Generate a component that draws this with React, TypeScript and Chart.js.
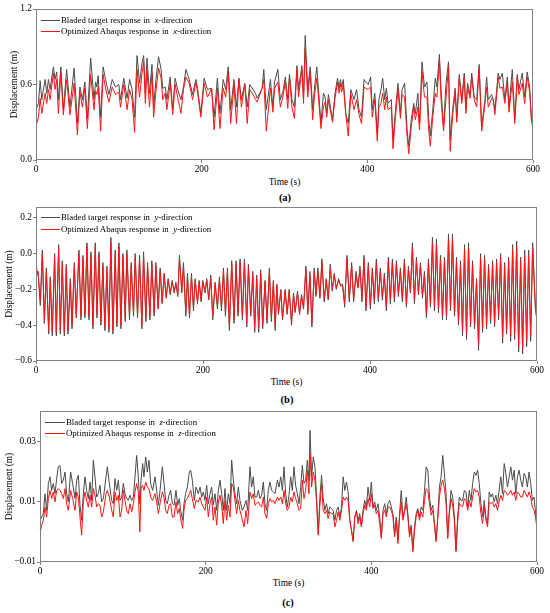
import React, { useEffect, useRef } from "react";
import { Chart, registerables } from "chart.js";

Chart.register(...registerables);

// ---- (a) x-direction ----
const timeX = [
  0, 3, 5, 7, 11, 13, 15, 17, 21, 23,
  25, 27, 30, 33, 37, 41, 46, 50, 53, 56,
  59, 62, 66, 70, 72, 73.5, 75, 78, 81, 84,
  88, 92, 96, 100, 102, 106, 110, 113, 116, 119,
  122, 125, 128, 130, 132, 134, 137, 140, 142, 145,
  148, 151, 153, 156, 158, 162, 165, 168, 171, 175,
  178, 181, 185, 189, 193, 195, 199, 203, 207, 212,
  215, 219, 222, 226, 229, 232, 235, 239, 242, 245,
  248, 252, 255, 258, 262, 265, 267, 273, 275, 278,
  283, 286, 288, 292, 295, 298, 301, 304, 306, 309,
  312, 315, 317, 321, 323, 325, 328, 331, 334, 336,
  339, 341, 344, 347, 349, 351, 353, 356, 358, 361,
  364, 366, 367.5, 369, 371, 374, 377, 380, 384, 387,
  390, 393, 396, 398, 401, 404, 406, 409, 412, 414,
  416.5, 418.5, 421, 423, 425, 429, 431, 434, 437, 440,
  442, 445, 448, 450, 453, 456, 458, 461, 463, 466,
  469, 472, 474, 476, 479, 482, 484, 487, 489, 492,
  495, 498, 500, 503, 506, 508, 511, 514, 517, 519,
  521, 524, 526, 529, 532, 535, 538, 542, 544, 546,
  550, 552, 554, 558, 560, 563, 566, 569, 571, 575,
  578, 581, 583, 587, 590, 593, 596, 598, 600,
];
const bladedX = [
  0.40, 0.45, 0.63, 0.48, 0.64, 0.53, 0.64, 0.56, 0.74, 0.64,
  0.70, 0.48, 0.74, 0.40, 0.72, 0.42, 0.73, 0.29, 0.58, 0.48,
  0.62, 0.33, 0.81, 0.48, 0.62, 0.58, 0.67, 0.34, 0.74, 0.64,
  0.52, 0.64, 0.58, 0.60, 0.48, 0.65, 0.49, 0.64, 0.56, 0.34,
  0.83, 0.61, 0.77, 0.83, 0.53, 0.81, 0.53, 0.76, 0.42, 0.65,
  0.82, 0.72, 0.57, 0.58, 0.48, 0.66, 0.40, 0.65, 0.56, 0.48,
  0.58, 0.72, 0.64, 0.52, 0.64, 0.57, 0.37, 0.65, 0.56, 0.57,
  0.34, 0.65, 0.37, 0.64, 0.56, 0.74, 0.40, 0.64, 0.42, 0.65,
  0.48, 0.61, 0.42, 0.60, 0.56, 0.53, 0.49, 0.57, 0.72, 0.40,
  0.64, 0.42, 0.62, 0.72, 0.48, 0.54, 0.66, 0.48, 0.68, 0.48,
  0.42, 0.75, 0.56, 0.75, 0.50, 0.99, 0.56, 0.74, 0.40, 0.56,
  0.74, 0.56, 0.29, 0.53, 0.50, 0.37, 0.52, 0.40, 0.32, 0.53,
  0.65, 0.57, 0.64, 0.58, 0.64, 0.37, 0.29, 0.56, 0.48, 0.56,
  0.40, 0.34, 0.64, 0.62, 0.60, 0.66, 0.40, 0.53, 0.21, 0.48,
  0.56, 0.65, 0.48, 0.57, 0.45, 0.48, 0.16, 0.40, 0.61, 0.37,
  0.56, 0.61, 0.24, 0.11, 0.32, 0.45, 0.37, 0.53, 0.29, 0.78,
  0.58, 0.62, 0.34, 0.19, 0.40, 0.65, 0.58, 0.84, 0.56, 0.26,
  0.61, 0.78, 0.16, 0.40, 0.57, 0.34, 0.68, 0.48, 0.69, 0.40,
  0.61, 0.52, 0.69, 0.50, 0.48, 0.76, 0.26, 0.48, 0.66, 0.48,
  0.52, 0.48, 0.40, 0.69, 0.64, 0.69, 0.48, 0.66, 0.42, 0.72,
  0.32, 0.68, 0.56, 0.69, 0.50, 0.70, 0.58, 0.34, 0.26,
];
const abaqusX = [
  0.27, 0.34, 0.49, 0.37, 0.53, 0.45, 0.56, 0.48, 0.69, 0.56,
  0.64, 0.37, 0.69, 0.36, 0.64, 0.36, 0.61, 0.20, 0.54, 0.42,
  0.57, 0.25, 0.68, 0.40, 0.55, 0.52, 0.58, 0.23, 0.68, 0.57,
  0.46, 0.58, 0.52, 0.54, 0.42, 0.60, 0.40, 0.56, 0.48, 0.22,
  0.72, 0.50, 0.69, 0.78, 0.45, 0.72, 0.42, 0.69, 0.34, 0.56,
  0.73, 0.65, 0.48, 0.53, 0.40, 0.61, 0.36, 0.60, 0.50, 0.37,
  0.56, 0.66, 0.61, 0.48, 0.62, 0.54, 0.34, 0.61, 0.50, 0.57,
  0.24, 0.57, 0.25, 0.57, 0.50, 0.70, 0.29, 0.60, 0.29, 0.64,
  0.42, 0.60, 0.29, 0.56, 0.52, 0.48, 0.46, 0.57, 0.64, 0.23,
  0.57, 0.38, 0.57, 0.62, 0.42, 0.50, 0.62, 0.41, 0.66, 0.42,
  0.33, 0.72, 0.50, 0.72, 0.45, 0.89, 0.50, 0.70, 0.32, 0.50,
  0.65, 0.50, 0.25, 0.42, 0.46, 0.34, 0.48, 0.37, 0.30, 0.49,
  0.62, 0.53, 0.61, 0.54, 0.60, 0.36, 0.19, 0.53, 0.40, 0.48,
  0.36, 0.29, 0.58, 0.57, 0.56, 0.58, 0.34, 0.48, 0.15, 0.42,
  0.45, 0.53, 0.40, 0.50, 0.40, 0.42, 0.09, 0.34, 0.56, 0.33,
  0.52, 0.50, 0.19, 0.05, 0.26, 0.42, 0.32, 0.42, 0.24, 0.70,
  0.50, 0.50, 0.24, 0.11, 0.34, 0.53, 0.50, 0.79, 0.48, 0.23,
  0.50, 0.74, 0.07, 0.36, 0.53, 0.30, 0.65, 0.45, 0.65, 0.37,
  0.58, 0.49, 0.66, 0.48, 0.42, 0.73, 0.23, 0.45, 0.58, 0.42,
  0.49, 0.48, 0.36, 0.66, 0.57, 0.58, 0.45, 0.62, 0.38, 0.62,
  0.29, 0.66, 0.52, 0.61, 0.45, 0.66, 0.54, 0.32, 0.25,
];

// ---- (b) y-direction ----
const timeY = [
  0, 1.2, 2.4, 5.2, 7.6, 10, 12.4, 15.2, 17.1, 19.5,
  22.3, 24.3, 27.1, 29.1, 31.5, 33.9, 36.3, 38.3, 41.1, 43.1,
  45.9, 48.2, 51.4, 53.8, 56.2, 58.6, 61, 63.4, 65.8, 68.2,
  71, 73, 75.4, 77.7, 80.1, 82.5, 84.9, 87.3, 89.7, 92.1,
  94.9, 96.9, 99.3, 101.7, 104.1, 106.9, 108.8, 112, 114, 116.8,
  118.8, 121.6, 124, 126.8, 128.8, 131.6, 133.6, 136.4, 138.7, 141.5,
  143.5, 146.3, 148.7, 151.1, 153.5, 155.9, 158.3, 160.7, 163.1, 165.5,
  167.5, 169.8, 171.8, 174.6, 176.6, 179.4, 181.4, 183.8, 186.2, 188.6,
  190.6, 193.4, 195.4, 197.8, 199.7, 202.5, 204.5, 206.9, 209.3, 211.7,
  214.5, 217.3, 219.7, 222.1, 224.5, 226.9, 229.3, 231.6, 234.4, 237.2,
  239.6, 242, 244.4, 247.2, 249.6, 252.4, 254.4, 257.2, 259.6, 261.9,
  264.3, 266.7, 269.1, 271.5, 274.3, 276.7, 279.5, 281.9, 284.3, 286.5,
  288.4, 290.4, 293.2, 295.2, 298.4, 300.8, 303.2, 306, 308.4, 310.4,
  313.2, 315.6, 318, 320.4, 323.2, 325.6, 328, 330.4, 333.2, 335.2,
  337.6, 340, 342.4, 345.2, 347.6, 350, 352.4, 354.8, 357.2, 359.6,
  362.4, 364.8, 367.2, 369.6, 372.4, 375.2, 378, 380.4, 383.2, 385.6,
  388, 390.4, 392.8, 395.2, 398, 400.4, 402.8, 405.2, 407.6, 410,
  412.4, 414.8, 417.2, 419.6, 422, 424.4, 426.8, 429.2, 431.6, 434,
  436.4, 438.8, 441.2, 443.6, 446, 448.4, 450.8, 453.2, 455.6, 458,
  460.4, 462.8, 465.2, 467.6, 470, 472.4, 474.8, 477.2, 479.6, 482,
  484.4, 486.8, 489.2, 491.6, 494, 496.4, 498.8, 501.2, 503.6, 506,
  508.4, 510.8, 513.2, 515.6, 518, 520.4, 522.8, 525.2, 527.6, 530,
  532.4, 534.8, 537.2, 539.6, 542, 544.4, 546.8, 549.2, 551.6, 554,
  556.4, 558.8, 561.2, 563.6, 566, 568.4, 570.8, 573.2, 575.6, 578,
  580.4, 582.8, 585.2, 587.6, 590, 592.4, 594.8, 598, 600,
];
const bladedY = [
  -0.02, -0.12, -0.10, -0.29, 0.02, -0.39, -0.08, -0.45, -0.13, -0.46,
  0.00, -0.46, 0.05, -0.45, -0.04, -0.46, -0.06, -0.45, -0.14, -0.42,
  -0.05, -0.36, 0.02, -0.37, -0.01, -0.36, 0.06, -0.37, 0.01, -0.42,
  0.06, -0.36, 0.01, -0.40, -0.05, -0.43, -0.07, -0.44, 0.09, -0.45,
  0.02, -0.41, 0.06, -0.42, 0.00, -0.38, 0.02, -0.37, -0.05, -0.35,
  0.00, -0.36, -0.01, -0.42, 0.01, -0.38, -0.05, -0.37, -0.04, -0.35,
  -0.05, -0.31, -0.08, -0.28, -0.11, -0.25, -0.14, -0.23, -0.15, -0.22,
  -0.16, -0.24, -0.01, -0.22, -0.05, -0.35, -0.11, -0.36, -0.11, -0.32,
  -0.14, -0.28, -0.15, -0.27, -0.15, -0.22, -0.14, -0.26, -0.12, -0.37,
  -0.16, -0.31, -0.13, -0.32, -0.08, -0.35, -0.08, -0.43, -0.04, -0.39,
  -0.04, -0.35, -0.03, -0.37, -0.03, -0.41, -0.06, -0.35, -0.10, -0.44,
  -0.12, -0.44, -0.09, -0.42, -0.15, -0.39, -0.08, -0.38, -0.15, -0.43,
  -0.17, -0.34, -0.20, -0.37, -0.20, -0.34, -0.20, -0.40, -0.22, -0.33,
  -0.21, -0.34, -0.23, -0.31, -0.07, -0.34, -0.10, -0.41, -0.08, -0.24,
  -0.08, -0.25, -0.03, -0.27, -0.14, -0.26, -0.06, -0.21, -0.11, -0.20,
  -0.14, -0.18, -0.17, -0.30, -0.01, -0.27, -0.05, -0.27, -0.10, -0.19,
  -0.07, -0.27, -0.01, -0.32, -0.05, -0.31, -0.08, -0.28, -0.03, -0.27,
  -0.08, -0.26, -0.11, -0.32, -0.02, -0.28, -0.03, -0.27, -0.04, -0.24,
  -0.08, -0.27, -0.03, -0.30, -0.07, -0.22, 0.06, -0.28, -0.02, -0.23,
  -0.05, -0.25, -0.10, -0.36, -0.03, -0.30, 0.09, -0.32, 0.08, -0.33,
  -0.01, -0.37, -0.02, -0.37, 0.11, -0.32, 0.11, -0.35, -0.02, -0.40,
  -0.04, -0.46, 0.05, -0.48, 0.06, -0.41, -0.04, -0.42, -0.14, -0.54,
  0.00, -0.44, -0.01, -0.42, -0.06, -0.39, -0.04, -0.41, -0.03, -0.37,
  0.00, -0.50, -0.05, -0.45, -0.02, -0.49, 0.05, -0.48, 0.07, -0.55,
  -0.02, -0.56, 0.02, -0.52, 0.02, -0.49, 0.06, -0.30, -0.38,
];
const abaqusY = [
  -0.03, -0.11, -0.10, -0.27, 0.00, -0.37, -0.10, -0.43, -0.15, -0.44,
  -0.02, -0.44, 0.03, -0.43, -0.06, -0.44, -0.08, -0.43, -0.16, -0.40,
  -0.07, -0.34, 0.00, -0.35, -0.03, -0.34, 0.04, -0.35, -0.01, -0.40,
  0.04, -0.34, -0.01, -0.38, -0.07, -0.41, -0.09, -0.42, 0.06, -0.43,
  0.00, -0.39, 0.04, -0.40, -0.02, -0.36, 0.00, -0.35, -0.07, -0.33,
  -0.02, -0.34, -0.03, -0.40, -0.01, -0.36, -0.07, -0.35, -0.06, -0.33,
  -0.07, -0.30, -0.10, -0.27, -0.12, -0.24, -0.15, -0.22, -0.16, -0.21,
  -0.17, -0.23, -0.03, -0.21, -0.07, -0.33, -0.13, -0.34, -0.13, -0.30,
  -0.15, -0.27, -0.16, -0.26, -0.16, -0.21, -0.15, -0.25, -0.14, -0.35,
  -0.17, -0.29, -0.15, -0.30, -0.10, -0.33, -0.10, -0.41, -0.06, -0.37,
  -0.06, -0.33, -0.05, -0.35, -0.05, -0.39, -0.08, -0.33, -0.12, -0.42,
  -0.14, -0.42, -0.11, -0.40, -0.16, -0.37, -0.10, -0.36, -0.16, -0.41,
  -0.18, -0.33, -0.21, -0.36, -0.21, -0.33, -0.21, -0.38, -0.23, -0.32,
  -0.22, -0.33, -0.24, -0.30, -0.09, -0.32, -0.12, -0.39, -0.10, -0.23,
  -0.10, -0.24, -0.05, -0.26, -0.15, -0.25, -0.08, -0.20, -0.12, -0.19,
  -0.15, -0.18, -0.18, -0.28, -0.03, -0.25, -0.07, -0.25, -0.12, -0.19,
  -0.09, -0.25, -0.03, -0.30, -0.07, -0.29, -0.10, -0.26, -0.05, -0.25,
  -0.10, -0.24, -0.13, -0.30, -0.04, -0.26, -0.05, -0.25, -0.06, -0.22,
  -0.10, -0.25, -0.05, -0.28, -0.09, -0.21, 0.03, -0.26, -0.04, -0.22,
  -0.07, -0.23, -0.12, -0.34, -0.05, -0.28, 0.06, -0.30, 0.05, -0.31,
  -0.03, -0.35, -0.04, -0.35, 0.08, -0.30, 0.08, -0.33, -0.04, -0.38,
  -0.06, -0.43, 0.02, -0.45, 0.03, -0.39, -0.06, -0.40, -0.15, -0.51,
  -0.02, -0.42, -0.03, -0.40, -0.08, -0.37, -0.06, -0.39, -0.05, -0.35,
  -0.02, -0.47, -0.07, -0.43, -0.04, -0.46, 0.02, -0.45, 0.04, -0.52,
  -0.04, -0.53, -0.01, -0.49, -0.01, -0.46, 0.03, -0.29, -0.37,
];

// ---- (c) z-direction ----
const timeZ = [
  0, 2, 4, 6, 8, 10.1, 12.1, 14.1, 16.1, 18.1,
  20.1, 22.1, 24.1, 26.2, 28.2, 30.2, 32.2, 34.2, 37, 39.4,
  42.3, 44.3, 46.3, 48.3, 50.3, 52.3, 54.3, 56.3, 58.3, 60.4,
  62.4, 64.4, 66.4, 68.4, 70.4, 72.4, 74.4, 76.5, 79.7, 81.3,
  83.7, 86.5, 88.5, 90.5, 92.6, 94.6, 96.6, 98.6, 100.6, 102.6,
  104.6, 106.6, 108.6, 110.7, 112.7, 114.7, 116.7, 118.7, 120.5, 122,
  123.9, 125.5, 127.6, 129.6, 131.6, 133.6, 136, 138.8, 140.8, 142.9,
  144.9, 147.7, 149.7, 151.7, 153.7, 155.7, 157.7, 159.8, 161.8, 164.2,
  166.2, 168.2, 169.8, 172.2, 173.8, 175.8, 177.9, 180.3, 181.9, 183.9,
  186.3, 188.3, 191.1, 193.2, 195.2, 197.2, 199.2, 201.2, 203.2, 205.2,
  207.2, 209.2, 211.3, 213.3, 215.3, 217.3, 219.3, 221.3, 223.3, 225.3,
  227.4, 229.4, 231.4, 233.4, 235.4, 237.4, 239.4, 241.4, 244.3, 246.3,
  248.7, 250.7, 253.5, 255.5, 257.5, 259.5, 261.6, 263.6, 265.6, 267.6,
  269.6, 271.6, 273.6, 275.6, 277.6, 279.7, 281.7, 283.7, 286.6, 288.6,
  290.6, 292.6, 294.6, 296.6, 298.6, 300.6, 302.6, 304.6, 306.6, 308.6,
  310.7, 312.7, 314.7, 316.7, 318.7, 320.7, 322.7, 324.7, 326, 327.9,
  329.9, 331.9, 333.5, 335.9, 337.9, 339.9, 341.9, 343.9, 345.9, 347.9,
  349.9, 351.9, 353.9, 356, 358, 360, 362, 364, 366, 368,
  370, 372, 374, 376, 378, 380, 382, 384, 386, 388,
  390, 392, 394, 396, 398, 400, 402, 404, 406, 408,
  410.1, 412.1, 414.1, 416.1, 418.1, 420.1, 422.1, 424.1, 426.1, 428.1,
  430.1, 432.1, 434.1, 436.1, 438.1, 440.1, 442.1, 444.1, 446.1, 448.1,
  450.1, 452.1, 454.1, 456.1, 458.1, 460.1, 462.2, 464.2, 466.2, 468.2,
  470.2, 472.2, 474.2, 476.2, 478.2, 480.2, 482.2, 484.2, 486.2, 488.2,
  490.2, 492.2, 494.2, 496.2, 498.2, 500.2, 502.2, 504.2, 506.2, 508.2,
  510.2, 512.3, 514.3, 516.3, 518.3, 520.3, 522.3, 524.3, 526.3, 528.3,
  530.3, 532.3, 534.3, 536.3, 538.3, 540.3, 542.3, 544.3, 546.3, 548.3,
  550.3, 552.3, 554.3, 556.3, 558.4, 560.4, 562.4, 564.4, 566.4, 568.4,
  570.4, 572.4, 574.4, 576.4, 578.4, 580.4, 582.4, 584.4, 586.4, 588.4,
  590.4, 592.4, 594.4, 596.4, 598.4, 600,
];
const bladedZ = [
  0.0038, 0.0049, 0.0060, 0.0126, 0.0071, 0.0160, 0.0182, 0.0137, 0.0160, 0.0126,
  0.0176, 0.0215, 0.0220, 0.0160, 0.0171, 0.0198, 0.0126, 0.0099, 0.0198, 0.0160,
  0.0110, 0.0171, 0.0187, 0.0088, 0.0038, 0.0126, 0.0182, 0.0137, 0.0110, 0.0165,
  0.0104, 0.0237, 0.0182, 0.0115, 0.0126, 0.0154, 0.0099, 0.0110, 0.0182, 0.0215,
  0.0160, 0.0104, 0.0093, 0.0176, 0.0137, 0.0171, 0.0104, 0.0115, 0.0160, 0.0126,
  0.0110, 0.0104, 0.0121, 0.0104, 0.0115, 0.0182, 0.0253, 0.0182, 0.0093, 0.0171,
  0.0226, 0.0182, 0.0248, 0.0198, 0.0237, 0.0160, 0.0137, 0.0182, 0.0137, 0.0088,
  0.0137, 0.0215, 0.0160, 0.0104, 0.0093, 0.0121, 0.0137, 0.0093, 0.0088, 0.0137,
  0.0088, 0.0110, 0.0071, 0.0038, 0.0093, 0.0126, 0.0148, 0.0198, 0.0204, 0.0171,
  0.0104, 0.0148, 0.0126, 0.0148, 0.0115, 0.0132, 0.0104, 0.0154, 0.0093, 0.0126,
  0.0148, 0.0088, 0.0126, 0.0071, 0.0137, 0.0171, 0.0126, 0.0071, 0.0143, 0.0071,
  0.0126, 0.0093, 0.0237, 0.0171, 0.0126, 0.0093, 0.0148, 0.0104, 0.0071, 0.0082,
  0.0104, 0.0071, 0.0215, 0.0148, 0.0182, 0.0115, 0.0115, 0.0137, 0.0110, 0.0121,
  0.0165, 0.0093, 0.0071, 0.0137, 0.0165, 0.0137, 0.0132, 0.0126, 0.0171, 0.0148,
  0.0182, 0.0137, 0.0215, 0.0126, 0.0082, 0.0121, 0.0182, 0.0137, 0.0215, 0.0154,
  0.0126, 0.0093, 0.0148, 0.0220, 0.0160, 0.0171, 0.0237, 0.0171, 0.0336, 0.0182,
  0.0248, 0.0215, 0.0137, -0.0006, 0.0115, 0.0187, 0.0110, 0.0071, 0.0093, 0.0060,
  0.0082, 0.0077, 0.0071, 0.0038, 0.0071, 0.0082, 0.0049, 0.0082, 0.0182, 0.0137,
  0.0165, 0.0132, 0.0038, 0.0005, -0.0028, 0.0049, 0.0071, 0.0038, 0.0060, 0.0022,
  0.0071, 0.0104, 0.0082, 0.0148, 0.0104, 0.0165, 0.0082, 0.0099, 0.0071, 0.0093,
  0.0049, -0.0017, 0.0071, 0.0093, 0.0060, 0.0093, 0.0104, 0.0082, 0.0060, -0.0006,
  0.0049, -0.0028, 0.0060, 0.0137, 0.0049, 0.0071, 0.0115, 0.0060, -0.0006, 0.0022,
  -0.0061, 0.0016, 0.0060, 0.0077, 0.0049, 0.0082, 0.0071, 0.0137, 0.0215, 0.0204,
  0.0115, 0.0071, 0.0088, 0.0027, -0.0028, 0.0049, 0.0148, 0.0182, 0.0253, 0.0193,
  0.0126, -0.0017, 0.0071, 0.0137, 0.0115, 0.0055, -0.0061, 0.0049, 0.0115, 0.0104,
  0.0104, 0.0137, 0.0132, 0.0082, 0.0137, 0.0104, 0.0160, 0.0198, 0.0187, 0.0204,
  0.0160, 0.0093, 0.0049, 0.0104, 0.0049, 0.0027, 0.0132, 0.0115, 0.0126, 0.0099,
  0.0121, 0.0093, 0.0137, 0.0182, 0.0126, 0.0226, 0.0193, 0.0148, 0.0182, 0.0215,
  0.0171, 0.0204, 0.0126, 0.0182, 0.0204, 0.0171, 0.0148, 0.0193, 0.0182, 0.0148,
  0.0198, 0.0160, 0.0104, 0.0115, 0.0060, 0.0011,
];
const abaqusZ = [
  -0.0006, 0.0022, 0.0038, 0.0082, 0.0049, 0.0110, 0.0137, 0.0110, 0.0132, 0.0099,
  0.0137, 0.0143, 0.0137, 0.0126, 0.0110, 0.0143, 0.0093, 0.0071, 0.0137, 0.0110,
  0.0071, 0.0132, 0.0115, 0.0049, -0.0011, 0.0099, 0.0132, 0.0104, 0.0082, 0.0121,
  0.0082, 0.0143, 0.0121, 0.0082, 0.0093, 0.0088, 0.0049, 0.0066, 0.0126, 0.0137,
  0.0115, 0.0071, 0.0049, 0.0132, 0.0104, 0.0121, 0.0049, 0.0071, 0.0137, 0.0104,
  0.0071, 0.0060, 0.0093, 0.0066, 0.0093, 0.0132, 0.0160, 0.0132, 0.0000, 0.0143,
  0.0154, 0.0137, 0.0165, 0.0148, 0.0143, 0.0115, 0.0104, 0.0126, 0.0099, 0.0060,
  0.0093, 0.0132, 0.0115, 0.0071, 0.0060, 0.0088, 0.0093, 0.0049, 0.0049, 0.0099,
  0.0060, 0.0077, 0.0044, 0.0011, 0.0071, 0.0104, 0.0110, 0.0126, 0.0137, 0.0110,
  0.0077, 0.0104, 0.0099, 0.0115, 0.0093, 0.0082, 0.0071, 0.0115, 0.0049, 0.0093,
  0.0115, 0.0038, 0.0082, 0.0022, 0.0099, 0.0121, 0.0088, 0.0027, 0.0104, 0.0038,
  0.0088, 0.0049, 0.0160, 0.0148, 0.0104, 0.0060, 0.0104, 0.0071, 0.0038, 0.0016,
  0.0071, 0.0027, 0.0132, 0.0110, 0.0126, 0.0088, 0.0093, 0.0099, 0.0088, 0.0082,
  0.0115, 0.0060, 0.0044, 0.0093, 0.0110, 0.0099, 0.0104, 0.0093, 0.0115, 0.0104,
  0.0115, 0.0093, 0.0137, 0.0093, 0.0071, 0.0082, 0.0115, 0.0099, 0.0132, 0.0110,
  0.0093, 0.0071, 0.0077, 0.0171, 0.0110, 0.0137, 0.0204, 0.0126, 0.0259, 0.0148,
  0.0198, 0.0171, 0.0115, -0.0011, 0.0088, 0.0160, 0.0071, 0.0060, 0.0071, 0.0044,
  0.0066, 0.0060, 0.0060, 0.0016, 0.0038, 0.0066, 0.0038, 0.0071, 0.0115, 0.0104,
  0.0115, 0.0104, 0.0038, 0.0005, -0.0033, 0.0049, 0.0066, 0.0027, 0.0049, 0.0016,
  0.0060, 0.0088, 0.0071, 0.0110, 0.0082, 0.0126, 0.0077, 0.0088, 0.0060, 0.0071,
  0.0027, -0.0022, 0.0060, 0.0071, 0.0049, 0.0082, 0.0082, 0.0071, 0.0049, -0.0017,
  0.0038, -0.0039, 0.0049, 0.0099, 0.0038, 0.0066, 0.0093, 0.0049, -0.0017, 0.0011,
  -0.0066, 0.0005, 0.0049, 0.0071, 0.0038, 0.0066, 0.0049, 0.0104, 0.0143, 0.0137,
  0.0093, 0.0055, 0.0071, 0.0022, -0.0033, 0.0044, 0.0115, 0.0154, 0.0171, 0.0143,
  0.0093, -0.0022, 0.0060, 0.0110, 0.0088, 0.0038, -0.0066, 0.0033, 0.0093, 0.0088,
  0.0082, 0.0110, 0.0104, 0.0071, 0.0104, 0.0082, 0.0115, 0.0143, 0.0132, 0.0137,
  0.0115, 0.0060, 0.0027, 0.0082, 0.0038, 0.0016, 0.0099, 0.0093, 0.0099, 0.0082,
  0.0093, 0.0071, 0.0099, 0.0121, 0.0104, 0.0137, 0.0132, 0.0121, 0.0126, 0.0137,
  0.0121, 0.0132, 0.0104, 0.0132, 0.0126, 0.0115, 0.0115, 0.0137, 0.0126, 0.0115,
  0.0132, 0.0115, 0.0082, 0.0071, 0.0049, 0.0005,
];

const timeTicks = [0, 200, 400, 600];
const ticksX = [0, 0.6, 1.2];
const ticksY = [-0.6, -0.4, -0.2, 0, 0.2];
const ticksZ = [-0.01, 0.01, 0.03];

const BLADED = "#4a4a4a";
const ABAQUS = "#ff1414";
const AXIS = "#808080";
const FONT = "'Liberation Serif', 'Times New Roman', serif";

const frame = {
  id: "frame",
  afterDraw(chart: any) {
    const { ctx, chartArea } = chart;
    const l = Math.round(chartArea.left) + 0.5;
    const t = Math.round(chartArea.top) + 0.5;
    const r = Math.round(chartArea.right) - 0.5;
    const b = Math.round(chartArea.bottom) - 0.5;
    ctx.save();
    ctx.strokeStyle = AXIS;
    ctx.lineWidth = 1;
    ctx.strokeRect(l, t, r - l, b - t);
    ctx.restore();
  },
};

const toPoints = (times: number[], values: number[]) =>
  times.map((t, i) => ({ x: t, y: values[i] }));

const minus = (s: string) => s.replace("-", "\u2212");

type PanelProps = {
  top: number;
  height: number;
  plotLeft: number;
  padRight: number;
  titlePad: number;
  times: number[];
  bladed: number[];
  abaqus: number[];
  yMin: number;
  yMax: number;
  yTicks: number[];
  decimals: number;
};

const Panel = (p: PanelProps) => {
  const ref = useRef<HTMLCanvasElement>(null);

  useEffect(() => {
    if (!ref.current) return;
    const font = { family: FONT, size: 9.4 };
    const chart = new Chart(ref.current, {
      type: "line",
      data: {
        datasets: [
          {
            label: "Optimized Abaqus",
            data: toPoints(p.times, p.abaqus),
            borderColor: ABAQUS,
            borderWidth: 1,
            pointRadius: 0,
            order: 0,
          },
          {
            label: "Bladed target",
            data: toPoints(p.times, p.bladed),
            borderColor: BLADED,
            borderWidth: 1,
            pointRadius: 0,
            order: 1,
          },
        ],
      },
      options: {
        animation: false,
        responsive: false,
        events: [],
        layout: { padding: { top: 9, right: p.padRight, left: 0, bottom: 0 } },
        plugins: { legend: { display: false }, tooltip: { enabled: false } },
        scales: {
          x: {
            type: "linear",
            min: 0,
            max: 600,
            afterBuildTicks: (s: any) => {
              s.ticks = timeTicks.map((v) => ({ value: v }));
            },
            afterFit: (s: any) => {
              s.height = 16;
            },
            grid: { drawOnChartArea: false, tickLength: 3, color: AXIS },
            border: { display: false },
            ticks: { font, color: "#000", padding: 1, maxRotation: 0, autoSkip: false },
          },
          y: {
            type: "linear",
            min: p.yMin,
            max: p.yMax,
            afterBuildTicks: (s: any) => {
              s.ticks = p.yTicks.map((v) => ({ value: v }));
            },
            afterFit: (s: any) => {
              s.width = p.plotLeft;
            },
            grid: { drawOnChartArea: false, tickLength: 3, color: AXIS },
            border: { display: false },
            ticks: {
              font,
              color: "#000",
              padding: 1,
              autoSkip: false,
              callback: (v: any) => minus(Number(v).toFixed(p.decimals)),
            },
            title: {
              display: true,
              text: "Displacement (m)",
              font,
              color: "#000",
              padding: { top: p.titlePad, bottom: 0 },
            },
          },
        },
      },
      plugins: [frame],
    } as any);
    return () => chart.destroy();
  }, []);

  return (
    <canvas
      ref={ref}
      width={550}
      height={p.height}
      style={{ position: "absolute", left: 0, top: p.top, width: 550, height: p.height }}
    />
  );
};

const Legend = ({ x0, x1, y1, y2, dir }: { x0: number; x1: number; y1: number; y2: number; dir: string }) => {
  const rows = [
    { y: y1, color: BLADED, text: "Bladed target response in  " },
    { y: y2, color: ABAQUS, text: "Optimized Abaqus response in  " },
  ];
  return (
    <>
      {rows.map((r) => (
        <React.Fragment key={r.text}>
          <div
            style={{
              position: "absolute",
              left: x0,
              top: r.y - 0.5,
              width: x1 - x0,
              height: 1,
              background: r.color,
            }}
          />
          <div
            style={{
              position: "absolute",
              left: x1 + 1,
              top: r.y,
              transform: "translateY(-50%)",
              fontSize: 8.8,
              lineHeight: 1,
              whiteSpace: "pre",
              color: "#000",
            }}
          >
            {r.text}
            <i>{dir}</i>-direction
          </div>
        </React.Fragment>
      ))}
    </>
  );
};

const Label = ({ x, y, text, bold }: { x: number; y: number; text: string; bold?: boolean }) => (
  <div
    style={{
      position: "absolute",
      left: x,
      top: y,
      transform: "translate(-50%, -50%)",
      fontSize: bold ? 10.5 : 9.4,
      fontWeight: bold ? "bold" : "normal",
      lineHeight: 1,
      whiteSpace: "nowrap",
      color: "#000",
    }}
  >
    {text}
  </div>
);

export default function App() {
  return (
    <div
      style={{
        position: "absolute",
        left: 0,
        top: 0,
        width: 550,
        height: 613,
        background: "#fff",
        fontFamily: FONT,
        overflow: "hidden",
      }}
    >
      <Panel
        top={0}
        height={176}
        plotLeft={36}
        padRight={17}
        titlePad={8.4}
        times={timeX}
        bladed={bladedX}
        abaqus={abaqusX}
        yMin={0}
        yMax={1.2}
        yTicks={ticksX}
        decimals={1}
      />
      <Legend x0={41} x1={60} y1={20} y2={31} dir="x" />
      <Label x={284.5} y={183} text="Time (s)" />
      <Label x={285} y={198} text="(a)" bold />

      <Panel
        top={198}
        height={179}
        plotLeft={36}
        padRight={13}
        titlePad={3.9}
        times={timeY}
        bladed={bladedY}
        abaqus={abaqusY}
        yMin={-0.6}
        yMax={0.26}
        yTicks={ticksY}
        decimals={1}
      />
      <Legend x0={41} x1={60} y1={217} y2={229} dir="y" />
      <Label x={286.5} y={383} text="Time (s)" />
      <Label x={287} y={400} text="(b)" bold />

      <Panel
        top={402}
        height={176}
        plotLeft={40}
        padRight={13}
        titlePad={3.9}
        times={timeZ}
        bladed={bladedZ}
        abaqus={abaqusZ}
        yMin={-0.01}
        yMax={0.04}
        yTicks={ticksZ}
        decimals={2}
      />
      <Legend x0={45} x1={65} y1={422} y2={433} dir="z" />
      <Label x={288.5} y={584} text="Time (s)" />
      <Label x={288} y={603} text="(c)" bold />
    </div>
  );
}
